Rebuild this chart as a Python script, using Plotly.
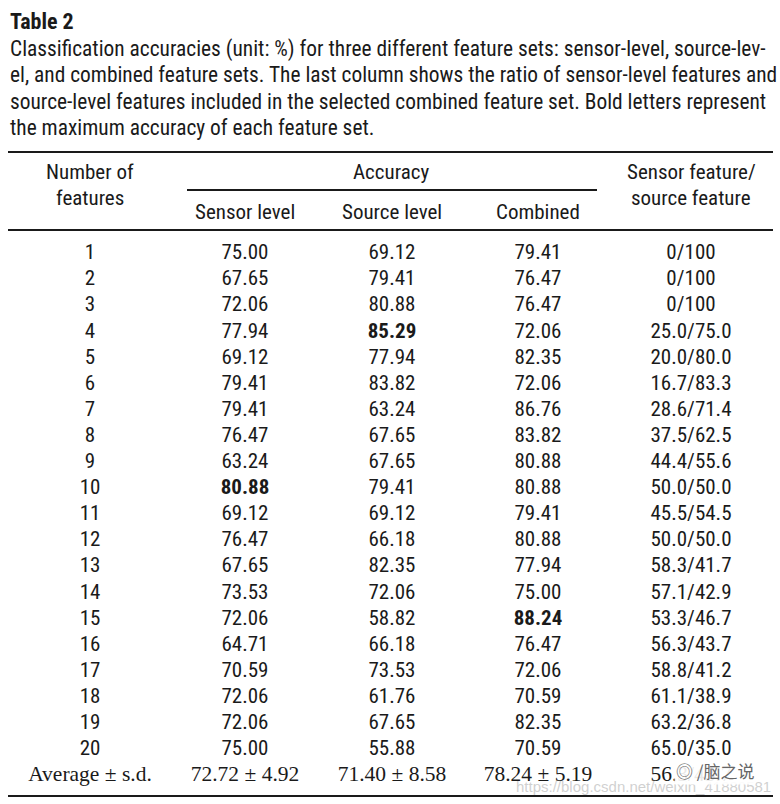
import plotly.graph_objects as go

# ---- data ----
n_features = list(range(1, 21))
sensor_level = [75.00, 67.65, 72.06, 77.94, 69.12, 79.41, 79.41, 76.47, 63.24, 80.88,
                69.12, 76.47, 67.65, 73.53, 72.06, 64.71, 70.59, 72.06, 72.06, 75.00]
source_level = [69.12, 79.41, 80.88, 85.29, 77.94, 83.82, 63.24, 67.65, 67.65, 79.41,
                69.12, 66.18, 82.35, 72.06, 58.82, 66.18, 73.53, 61.76, 67.65, 55.88]
combined = [79.41, 76.47, 76.47, 72.06, 82.35, 72.06, 86.76, 83.82, 80.88, 80.88,
            79.41, 80.88, 77.94, 75.00, 88.24, 76.47, 72.06, 70.59, 82.35, 70.59]
ratio = ["0/100", "0/100", "0/100", "25.0/75.0", "20.0/80.0", "16.7/83.3", "28.6/71.4",
         "37.5/62.5", "44.4/55.6", "50.0/50.0", "45.5/54.5", "50.0/50.0", "58.3/41.7",
         "57.1/42.9", "53.3/46.7", "56.3/43.7", "58.8/41.2", "61.1/38.9", "63.2/36.8",
         "65.0/35.0"]
avg_row = ["Average \u00b1 s.d.", "72.72 \u00b1 4.92", "71.40 \u00b1 8.58", "78.24 \u00b1 5.19", "56.3/43.7"]

title = "<b>Table 2</b>"
caption = [
    "Classification accuracies (unit: %) for three different feature sets: sensor-level, source-lev-",
    "el, and combined feature sets. The last column shows the ratio of sensor-level features and",
    "source-level features included in the selected combined feature set. Bold letters represent",
    "the maximum accuracy of each feature set.",
]

# ---- layout constants ----
W, H = 780, 804
COND = "Roboto Condensed, DejaVu Sans Condensed, sans-serif"
SERIF = "Liberation Serif, DejaVu Serif, serif"
col_x = [90, 245, 392, 538, 691]
row_y0, row_dy = 254, 26.1
FS = 21
INK = "#1a1a1a"

fig = go.Figure()

def fmt_col(vals):
    m = max(vals)
    return [("<b>%.2f</b>" % v) if v == m else ("%.2f" % v) for v in vals]

columns = [[str(n) for n in n_features], fmt_col(sensor_level), fmt_col(source_level),
           fmt_col(combined), ratio]
ys = [row_y0 + i * row_dy for i in range(len(n_features))]
for cx, col in zip(col_x, columns):
    fig.add_trace(go.Scatter(x=[cx] * len(col), y=ys, mode="text", text=col,
                             textposition="middle center",
                             textfont=dict(family=COND, size=FS, color=INK),
                             hoverinfo="skip", showlegend=False))

avg_y = row_y0 + len(n_features) * row_dy
fig.add_trace(go.Scatter(x=col_x, y=[avg_y] * 5, mode="text", text=avg_row,
                         textposition="middle center",
                         textfont=dict(family=SERIF, size=21.5, color=INK),
                         hoverinfo="skip", showlegend=False))

ann = []
ann.append(dict(x=8, y=21, text=title, xanchor="left", yanchor="middle",
                font=dict(family=COND, size=22, color=INK)))
for i, line in enumerate(caption):
    ann.append(dict(x=8, y=48.5 + i * 26.4, text=line, xanchor="left", yanchor="middle",
                    font=dict(family=COND, size=21.4, color=INK)))
headers = [(90, 172, "Number of"), (90, 198, "features"), (391, 172, "Accuracy"),
           (245, 212, "Sensor level"), (392, 212, "Source level"), (538, 212, "Combined"),
           (691, 172, "Sensor feature/"), (691, 198, "source feature")]
for x, y, t in headers:
    ann.append(dict(x=x, y=y, text=t, xanchor="center", yanchor="middle",
                    font=dict(family=COND, size=FS, color=INK)))
# watermark
ann.append(dict(x=773, y=786, text="https://blog.csdn.net/weixin_41880581", xanchor="right",
                yanchor="middle", font=dict(family="Liberation Sans, Arial, sans-serif", size=15,
                                            color="rgba(200,200,200,0.85)")))
ann.append(dict(x=756, y=770, text="\u25ce /\u8111\u4e4b\u8bf4", xanchor="right", yanchor="middle",
                bgcolor="rgba(255,255,255,0.9)",
                font=dict(family="Noto Sans CJK SC, sans-serif", size=17, color="#666666")))
for a in ann:
    a.update(xref="x", yref="y", showarrow=False)

shapes = [
    dict(type="line", x0=8, x1=773, y0=152, y1=152, line=dict(color=INK, width=2)),
    dict(type="line", x0=187, x1=597, y0=190, y1=190, line=dict(color=INK, width=2)),
    dict(type="line", x0=8, x1=773, y0=230, y1=230, line=dict(color=INK, width=2)),
    dict(type="line", x0=8, x1=773, y0=796, y1=796, line=dict(color=INK, width=2)),
]
for s in shapes:
    s.update(xref="x", yref="y", layer="below")

fig.update_layout(
    width=W, height=H, margin=dict(l=0, r=0, t=0, b=0),
    paper_bgcolor="white", plot_bgcolor="white",
    xaxis=dict(range=[0, W], visible=False, fixedrange=True),
    yaxis=dict(range=[H, 0], visible=False, fixedrange=True),
    annotations=ann, shapes=shapes,
)
fig.write_html("out.html", config={"displayModeBar": False},
               post_script="document.body.style.margin='0px';")
